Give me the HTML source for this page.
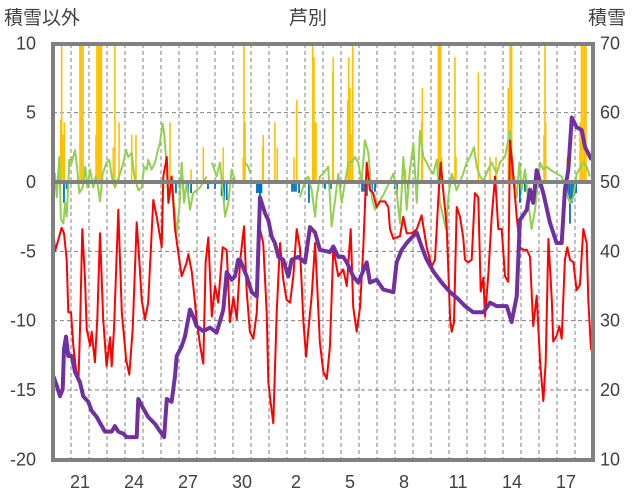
<!DOCTYPE html>
<html><head><meta charset="utf-8">
<style>
html,body{margin:0;padding:0;background:#fff;}
svg{display:block;font-family:"Liberation Sans","Noto Sans CJK JP",sans-serif;}
</style></head>
<body>
<svg id="chart" width="636" height="501" viewBox="0 0 636 501" xmlns="http://www.w3.org/2000/svg">
<text x="308" y="24" font-size="19" text-anchor="middle" fill="#404040">芦別</text>
<text x="4" y="24" font-size="19" fill="#404040">積雪以外</text>
<text x="588" y="24" font-size="19" fill="#404040">積雪</text>
<g id="grid"></g><g id="bars"></g><g id="lines"></g><g id="axes"></g>
</svg>
<script>
const dayLabels=["20","21","22","23","24","25","26","27","28","29","30","31","1","2","3","4","5","6","7","8","9","10","11","12","13","14","15","16","17","18"];
const leftTicks=[10,5,0,-5,-10,-15,-20];
const rightTicks=[70,60,50,40,30,20,10];
const redT=[0.02,0.11,0.29,0.48,0.61,0.76,0.85,1.0,1.13,1.28,1.41,1.5,1.63,1.78,1.87,2.06,2.15,2.33,2.46,2.61,2.79,2.98,3.17,3.26,3.39,3.63,3.82,4.06,4.24,4.43,4.65,4.83,4.93,5.11,5.29,5.57,5.76,6.04,6.13,6.32,6.41,6.59,6.78,6.96,7.15,7.43,7.52,7.71,7.89,7.98,8.17,8.35,8.48,8.63,8.82,9.0,9.18,9.43,9.65,9.83,10.02,10.21,10.39,10.61,10.76,10.94,11.13,11.32,11.5,11.68,11.87,11.96,12.06,12.24,12.43,12.61,12.79,12.98,13.17,13.35,13.54,13.72,13.91,14.06,14.18,14.37,14.56,14.83,15.02,15.21,15.39,15.57,15.85,16.13,16.32,16.54,16.68,16.87,17.06,17.24,17.43,17.61,17.79,17.98,18.17,18.44,18.63,18.72,18.91,19.28,19.46,19.65,19.93,20.21,20.48,20.76,21.04,21.22,21.41,21.54,21.68,21.87,22.06,22.15,22.28,22.43,22.61,22.79,22.89,23.07,23.26,23.44,23.63,23.76,23.91,24.0,24.18,24.37,24.56,24.74,24.93,25.11,25.29,25.39,25.57,25.76,25.94,26.13,26.32,26.5,26.68,26.87,27.06,27.24,27.37,27.52,27.71,27.79,27.98,28.13,28.26,28.44,28.57,28.72,28.91,29.09,29.28,29.46,29.65,29.74,29.89];
const redV=[-3.4,-5,-4.2,-3.3,-3.7,-5.6,-9.4,-9.4,-11.8,-13.5,-14.4,-10.6,-3.4,-7,-10.6,-11.8,-10.8,-13,-9.9,-3.7,-9.9,-13.3,-11.2,-13.3,-10.6,-2,-9.4,-12.8,-13.9,-10.6,-2.9,-6.3,-8.5,-9.9,-8.7,-1.3,-2.5,-4.7,0.4,1.8,-1.5,0.4,-3.4,-5.1,-6.8,-5.8,-5.2,-6.5,-8.7,-9.9,-11.8,-13.1,-5.8,-4,-9.7,-7.5,-8.7,-4.7,-4.9,-10.1,-8.3,-9.9,-5.8,-3.2,-7.9,-10.8,-11.3,-9.4,-3.4,-4.4,-9.4,-14.4,-15.6,-17.4,-9.4,-4.4,-7,-8.5,-8.7,-6.8,-3.4,-4.8,-10.1,-12.6,-10.8,-8.2,-4.4,-11.6,-13.7,-14.2,-11.8,-4.8,-6.8,-6.3,-7.5,-3.4,-9,-10.8,-9,-4.7,1.4,-0.6,-0.8,-1.8,-1.4,-1.4,-1.8,-3.4,-4.1,-3.9,-2.5,-3.7,-3.7,-3.4,-2.4,-4.7,-6.1,-5.6,-1.1,1.4,-0.6,-3.2,-9.9,-10.8,-10.1,-1.8,-2.5,-4,-5.6,-5.8,-5.6,-0.8,-1.1,-7.9,-6.9,-9.7,-6.8,-2.5,0.4,-3.4,-3.4,-6.8,-7.2,3,0.4,-2.5,-4.7,-4.9,-4.9,-5.4,-10.4,-8.2,-13,-15.8,-13,-4.1,-8.5,-11.5,-11.1,-10.4,-11.3,-5.6,-4.7,-5.6,-5.8,-7.8,-7.4,-3.4,-4.4,-8.5,-12.1];
const snowT=[0.02,0.21,0.39,0.54,0.61,0.72,0.85,1.04,1.22,1.5,1.68,1.96,2.15,2.43,2.71,2.89,3.26,3.44,3.63,3.91,4.09,4.65,4.74,5.02,5.29,5.67,5.85,6.17,6.32,6.59,6.78,6.87,7.15,7.33,7.61,7.79,7.98,8.35,8.72,9.09,9.28,9.46,9.65,9.93,10.11,10.29,10.39,10.76,11.04,11.32,11.5,11.78,11.96,12.15,12.33,12.52,12.79,13.07,13.26,13.63,14.0,14.28,14.56,14.83,15.39,15.57,15.85,16.13,16.32,16.68,16.96,17.43,17.61,17.98,18.35,18.91,19.09,19.37,19.65,19.83,20.21,20.48,20.76,21.13,21.59,22.06,22.52,22.89,23.35,23.91,24.28,24.65,25.21,25.48,25.76,25.94,26.32,26.5,26.68,26.87,27.24,27.61,27.98,28.26,28.44,28.63,28.82,29.09,29.37,29.56,29.93];
const snowV=[22,20.6,19.1,20.1,25.9,27.7,24.9,24.9,22.6,21.1,19.1,18.3,17,16.1,14.8,14,14,14.8,14,13.7,13.2,13.2,18.7,17.3,16.1,15.1,14.4,13.2,18.7,18.3,22,24.9,26.3,27.7,31.6,30.6,29.2,28.5,29,28.3,29.9,31.6,37,35.9,36.4,38.8,38.8,36.4,34.1,33.5,47.8,45.5,44.5,42.1,41.2,39.2,38.8,36.4,38.8,39.2,38.4,43.5,42.7,40.2,39.9,40.7,39.2,39.2,38.4,36.4,35.5,38.4,35.5,35.9,34.5,34.1,38.4,40.2,41.2,41.7,42.7,40.7,38.8,37.1,35.5,34.1,33.1,32.1,31.2,31.2,32.6,32.1,32.1,29.8,33.5,44.5,46,48.9,47,51.7,48.4,44.1,41.2,41.2,48.9,51.7,59.3,57.9,57.5,55,53.2];
const greenT=[0.02,0.11,0.21,0.35,0.44,0.57,0.68,0.76,0.91,1.04,1.22,1.35,1.46,1.65,1.79,1.91,2.06,2.24,2.37,2.46,2.61,2.76,2.98,3.13,3.26,3.44,3.72,3.91,4.06,4.18,4.37,4.52,4.74,4.93,5.06,5.21,5.29,5.48,5.67,5.79,5.94,6.09,6.18,6.28,6.41,6.54,6.65,6.78,6.87,7.02,7.15,7.28,7.43,7.61,7.79,7.98,8.17,8.35,8.54,8.7,8.82,8.91,9.09,9.28,9.43,9.56,9.74,9.93,10.11,10.4,10.67,10.85,10.98,12,13.72,14.0,14.18,14.37,14.56,14.65,14.83,15.02,15.29,15.48,15.67,15.85,16.04,16.22,16.41,16.59,16.78,16.96,17.15,17.33,17.52,17.71,17.89,18.4,18.91,19.09,19.28,19.46,19.65,19.83,20.02,20.21,20.39,20.57,20.76,20.94,21.13,21.32,21.5,21.68,21.83,21.96,22.15,22.43,22.61,22.79,22.98,23.17,23.39,23.54,23.72,23.91,24.18,24.37,24.65,24.83,25.11,25.39,25.57,25.76,25.91,26.04,26.22,26.41,26.59,26.78,27.06,27.24,27.43,27.61,27.98,28.26,28.54,28.72,28.91,29.09,29.46,29.65,29.83];
const greenV=[-1.5,0.6,-1.1,1.8,-2.7,-3,-1.5,-2.5,1.6,1.4,2.3,0.9,-0.8,-0.4,1.1,-0.4,0.9,-0.4,0.4,0,-1.4,0.6,1.4,1.6,0.4,-0.4,0.6,1.4,2.3,1.8,2.1,0.4,-0.6,-0.4,1.1,0.9,1.6,0.9,1.4,2.1,2.8,4.2,3.5,1.8,-1.5,-0.6,-0.6,-2.5,-3.7,-1.8,1.4,-1.5,0,-2,-0.8,-0.6,-0.4,0,0.4,null,1.4,1.1,0.4,1.4,-0.6,-2.5,-1.5,0.9,0.1,null,1.4,1.1,0.6,null,-1.1,0.1,0.4,-0.6,-2.5,-1.1,0.4,0.6,1.1,-3.2,-1.3,0.6,-1.5,0,1.4,1.4,1.8,1.4,0,3,2.1,-1.1,-2,-0.8,0.6,-0.6,-3,1.8,-2,0.9,2.8,-1.5,3.7,1.8,1.4,0.9,0.6,1.6,-1.5,-2.5,-3.4,-1.1,0.6,-0.6,0,0.6,1.4,1.8,2.5,1.1,0.4,0.1,0.9,1.4,0.6,1.4,1.8,3.7,0.6,-1.1,1.4,-0.6,0.9,-1.5,-3.4,-2,1.4,0.9,1.1,0.9,0.6,0.4,-0.8,-1.5,-1.1,0.6,1.4,1.1,0.4];
const snowfallT=[0.43,0.48,0.54,0.63,1.5,1.58,1.67,2.39,2.44,2.53,2.61,2.69,3.35,3.44,3.67,4.37,4.61,6.5,7.67,8.35,9.46,10.57,10.61,10.67,11.65,11.68,12.33,12.46,13.39,13.54,14.43,14.5,14.56,14.61,15.54,15.57,16.37,16.43,16.5,16.56,16.65,19.59,20.48,20.52,21.41,21.47,21.54,21.59,22.33,22.39,23.63,24.28,24.61,25.29,25.39,25.48,27.28,27.33,27.37,28.57,29.28,29.36,29.44,29.53,29.61];
const snowfallV=[4.5,10,3.4,4.3,10,10,10,3.4,10,10,10,10,2.5,10,4.3,3.4,3.4,4.3,0.9,2.5,2.5,1.8,10,4.3,2.5,3.4,4.3,2.5,1.8,5.9,10,9,4.3,4.3,7.9,9,5.9,9,6.8,3.4,10,0.9,4.3,6.8,10,10,10,1.8,9,1.8,7.9,1.8,1.8,6.8,10,10,3.4,10,4.3,1.8,4.3,10,10,10,10];
const meltT=[0.61,0.76,6.83,7.22,7.5,7.67,8.61,9.0,9.37,9.5,9.65,11.33,11.42,11.5,11.58,13.28,13.39,13.5,13.67,14.22,15.11,15.44,17.17,17.28,17.44,17.72,17.89,19.0,19.11,19.72,25.94,26.22,28.5,28.61,28.72,28.83,28.94,29.06];
const meltV=[-1.5,-0.5,-0.8,-0.5,-0.8,-0.8,-0.5,-0.5,-1,-1.4,-1.3,-0.8,-0.8,-1,-0.8,-0.7,-0.7,-0.7,-0.8,-1.5,-0.5,-0.5,-0.7,-0.7,-1,-0.7,-0.7,-0.5,-1,-0.5,-1.5,-0.7,-1,-1.2,-3,-1.5,-1,-0.8];

const NS="http://www.w3.org/2000/svg";
const X0=53,X1=593,Y0=44,Y1=460,DAYS=30;
const xs=t=>X0+t*(X1-X0)/DAYS;
const yL=v=>182-v*(Y1-Y0)/30;
const yR=r=>yL((r-50)/2);
function mk(tag,parent,attrs){const e=document.createElementNS(NS,tag);for(const k in attrs)e.setAttribute(k,attrs[k]);parent.appendChild(e);return e;}
const svg=document.getElementById('chart');
const defs=mk('defs',svg,{});
const cp=mk('clipPath',defs,{id:'plotclip'});
mk('rect',cp,{x:X0,y:Y0,width:X1-X0,height:Y1-Y0});
const grid=document.getElementById('grid'),bars=document.getElementById('bars'),lines=document.getElementById('lines'),axes=document.getElementById('axes');
bars.setAttribute('clip-path','url(#plotclip)');lines.setAttribute('clip-path','url(#plotclip)');

leftTicks.forEach((v,i)=>{
  if(v!==0&&v!==10&&v!==-20){const g=mk('line',grid,{x1:X0,x2:X1,y1:yL(v),y2:yL(v),stroke:'#808080','stroke-width':1,'stroke-dasharray':'4,3'});
  
  }
  const t=mk('text',axes,{x:36,y:yL(v)+6,'font-size':18,'text-anchor':'end',fill:'#404040'});t.textContent=v;
  
  
});
rightTicks.forEach(r=>{
  const t=mk('text',axes,{x:600,y:yR(r)+6,'font-size':18,fill:'#404040'});t.textContent=r;
  
  
});
dayLabels.forEach((d,i)=>{
  if(i>0){const g=mk('line',grid,{x1:xs(i),x2:xs(i),y1:Y0,y2:Y1,stroke:'#808080','stroke-width':1,'stroke-dasharray':'4,3'});
  
  }
  if(i%3===1){const t=mk('text',axes,{x:xs(i+0.5),y:488,'font-size':18,'text-anchor':'middle',fill:'#404040'});t.textContent=d;
  
  }
});
snowfallT.forEach((t,i)=>{
  const y=yL(snowfallV[i]);
  const b=mk('rect',bars,{x:xs(t)-0.8,y:y,width:1.6,height:yL(0)-y,fill:'#ffc000'});
  
  
});
meltT.forEach((t,i)=>{
  const b=mk('rect',bars,{x:xs(t)-0.9,y:yL(0),width:1.8,height:yL(meltV[i])-yL(0),fill:'#0070c0'});
  
  
});
function pathFrom(T,V,yf){let d='',pen=false;T.forEach((t,i)=>{const v=V[i];if(v===null){pen=false;return;}d+=(pen?'L':'M')+xs(t).toFixed(1)+','+yf(v).toFixed(1);pen=true;});return d;}
const gl=mk('path',lines,{d:pathFrom(greenT,greenV,yL),fill:'none',stroke:'#92d050','stroke-width':2,'stroke-linejoin':'round'});


const rl=mk('path',lines,{d:pathFrom(redT,redV,yL),fill:'none',stroke:'#ff0000','stroke-width':2,'stroke-linejoin':'round'});


const pl=mk('path',lines,{d:pathFrom(snowT,snowV,yR),fill:'none',stroke:'#7030a0','stroke-width':4,'stroke-linejoin':'round'});


const zl=mk('line',axes,{x1:X0,x2:X1,y1:yL(0),y2:yL(0),stroke:'#808080','stroke-width':4});


const fr=mk('rect',axes,{x:X0,y:Y0,width:X1-X0,height:Y1-Y0,fill:'none',stroke:'#808080','stroke-width':4});


</script>
</body></html>
